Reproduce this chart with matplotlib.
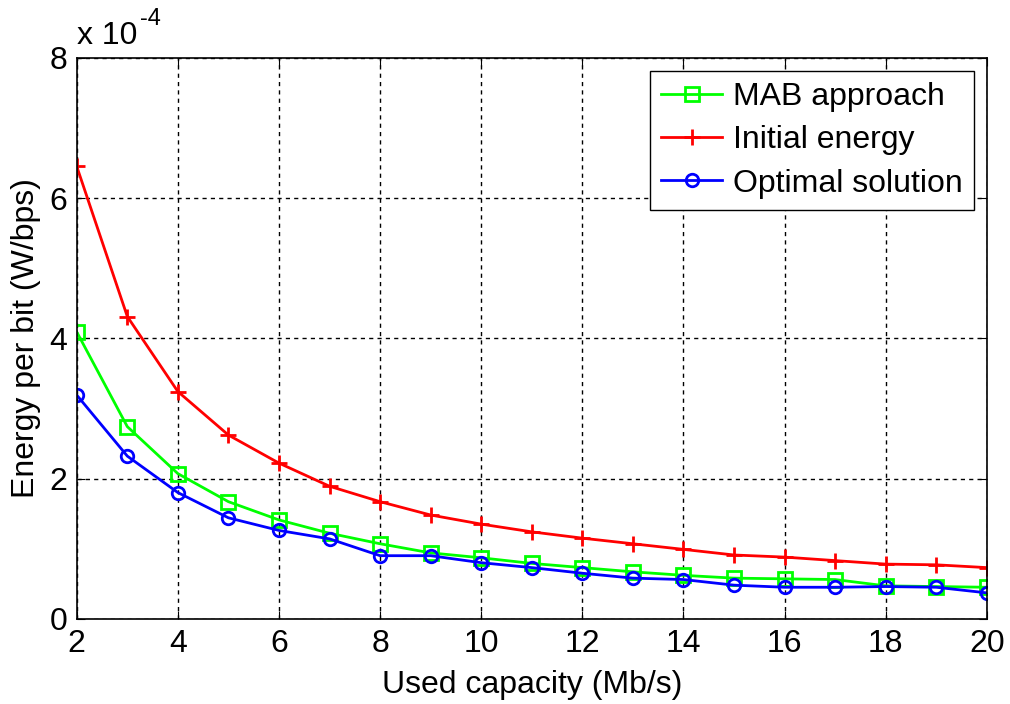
import matplotlib
matplotlib.use("Agg")
import matplotlib.pyplot as plt

plt.rcParams['font.family'] = ['Liberation Sans', 'DejaVu Sans']

# Used capacity (Mb/s)
capacity = list(range(2, 21))

# Energy per bit, in units of 1e-4 W/bps
mab = [4.09, 2.74, 2.07, 1.67, 1.41, 1.22, 1.07, 0.94, 0.87, 0.79,
       0.73, 0.67, 0.62, 0.58, 0.57, 0.56, 0.47, 0.46, 0.45]
initial = [6.45, 4.31, 3.24, 2.62, 2.22, 1.89, 1.67, 1.48, 1.35, 1.24,
           1.15, 1.07, 0.99, 0.91, 0.88, 0.83, 0.78, 0.77, 0.73]
optimal = [3.19, 2.32, 1.80, 1.44, 1.26, 1.14, 0.90, 0.90, 0.80, 0.73,
           0.65, 0.58, 0.56, 0.48, 0.45, 0.45, 0.46, 0.45, 0.37]

fs = 23

fig = plt.figure(figsize=(10.1, 7.04), dpi=100)
ax = fig.add_axes([0.076, 0.121, 0.901, 0.797])

ax.plot(capacity, mab, color='#00ff00', lw=2, marker='s', ms=10,
        mfc='none', mew=2, label='MAB approach')
ax.plot(capacity, initial, color='#ff0000', lw=2, marker='+', ms=12,
        mew=2, label='Initial energy')
ax.plot(capacity, optimal, color='#0000ff', lw=2, marker='o', ms=9,
        mfc='none', mew=2, label='Optimal solution')

ax.set_xlim(2, 20)
ax.set_ylim(0, 8)
ax.set_xticks(range(2, 21, 2))
ax.set_yticks(range(0, 9, 2))
ax.grid(True, color='black', linestyle=(0, (3, 3)), linewidth=1)
ax.tick_params(direction='in', top=True, right=True, labelsize=fs,
               length=6, pad=7)
for s in ax.spines.values():
    s.set_linewidth(1.2)

ax.set_xlabel('Used capacity (Mb/s)', fontsize=fs, labelpad=8)
ax.set_ylabel('Energy per bit (W/bps)', fontsize=fs, labelpad=6)
ax.text(0.0, 1.012, 'x 10', transform=ax.transAxes,
        fontsize=fs, ha='left', va='bottom')
ax.text(0.069, 1.05, '-4', transform=ax.transAxes,
        fontsize=17, ha='left', va='bottom')

leg = ax.legend(loc='upper right', fontsize=fs, fancybox=False,
                framealpha=1, edgecolor='black', handlelength=1.9,
                borderaxespad=0.4, labelspacing=0.42, handletextpad=0.35,
                borderpad=0.35)
leg.get_frame().set_linewidth(1)

fig.savefig('out.png', dpi=100)
